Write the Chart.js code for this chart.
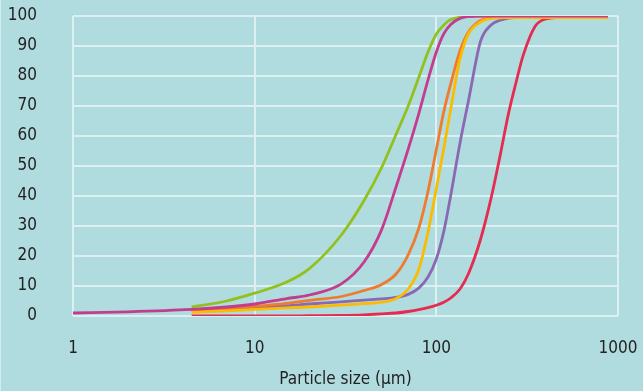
<!DOCTYPE html>
<html>
<head>
<meta charset="utf-8">
<style>
  html, body { margin: 0; padding: 0; background: #b0dce0; }
  #chart { display: block; }
</style>
<script src="https://cdn.jsdelivr.net/npm/chart.js@4"></script>
</head>
<body>
<canvas id="chart" width="643" height="391"></canvas>
<script>
const sizes = [1, 2, 4.5, 7, 10, 15, 20, 30, 40, 50, 60, 70, 80, 90, 100, 110, 120, 135, 150, 175, 200, 225, 250, 275, 300, 350, 400, 500, 880];

// cumulative % passing for each sample
const green = [null, null, 3, 5, 7.6, 11.3, 15.8, 27, 38.5, 49.5, 60.5, 70, 79.5, 88, 94, 97, 98.8, 99.6, 99.9, 100, 100, 100, 100, 100, 100, 100, 100, 100, 100];
const magenta = [1, 1.4, 2.2, 3, 4, 5.8, 7, 10.7, 18, 28.8, 43, 55.6, 67.4, 78.7, 88, 94.1, 97.2, 99.2, 99.8, 100, 100, 100, 100, 100, 100, 100, 100, 100, 100];
const orange = [null, null, 1.8, 2.5, 3.2, 4.2, 5.2, 6.5, 8.5, 10.5, 14, 20.4, 29.2, 41.6, 55.5, 68.2, 77.4, 88.4, 94.6, 98.5, 99.5, 99.7, 99.8, 99.8, 99.8, 99.8, 99.8, 99.8, 99.8];
const yellow = [null, null, 1.2, 1.7, 2.2, 2.7, 3, 3.6, 4.1, 4.6, 5.8, 9, 15.5, 28, 42.5, 56, 69, 85.7, 94, 98, 99.2, 99.4, 99.5, 99.5, 99.5, 99.5, 99.5, 99.5, 99.5];
const purple = [null, null, 1.9, 2.4, 2.8, 3.4, 4, 4.7, 5.3, 5.7, 6.2, 7.2, 9.3, 13, 19, 28.3, 40.2, 57.7, 71.5, 91.5, 97, 98.6, 99.3, 99.5, 99.6, 99.6, 99.6, 99.6, 99.6];
const red = [null, null, 0, 0, 0, 0, 0.1, 0.2, 0.4, 0.7, 1, 1.5, 2.1, 2.8, 3.6, 4.6, 6, 9, 14, 25.5, 39.2, 53.8, 67.7, 78, 86.7, 96.6, 99, 99.6, 99.7];

const xTicks = [1, 10, 100, 1000];
const yTicks = [0, 10, 20, 30, 40, 50, 60, 70, 80, 90, 100];

const FONT = '"DejaVu Sans Condensed", "DejaVu Sans", sans-serif';

const toPoints = (values) => sizes.map((x, i) => ({ x: x, y: values[i] }));

const series = [
  { data: magenta, color: '#c43c8d', order: 1 },
  { data: yellow, color: '#fbbb00', order: 2 },
  { data: orange, color: '#f07a2d', order: 3 },
  { data: red, color: '#e62b50', order: 4 },
  { data: purple, color: '#8a68b3', order: 5 },
  { data: green, color: '#93c01f', order: 6 },
];

// faint light edge on the left of the panel
const edgeLine = {
  id: 'edgeLine',
  beforeDraw: (chart) => {
    const ctx = chart.ctx;
    ctx.save();
    ctx.fillStyle = '#d2ecee';
    ctx.fillRect(0, 0, 1, chart.height);
    ctx.restore();
  },
};

const main = () => {
  const config = {
    type: 'line',
    data: {
      datasets: series.map((s) => ({
        data: toPoints(s.data),
        borderColor: s.color,
        borderWidth: 2.8,
        pointRadius: 0,
        fill: false,
        cubicInterpolationMode: 'monotone',
        order: s.order,
      })),
    },
    options: {
      responsive: false,
      animation: false,
      layout: { autoPadding: false, padding: { top: 16, right: 25, left: 0, bottom: 0 } },
      plugins: { legend: { display: false }, tooltip: { enabled: false } },
      scales: {
        x: {
          type: 'logarithmic',
          min: 1,
          max: 1000,
          afterBuildTicks: (scale) => {
            scale.ticks = xTicks.map((v) => ({ value: v }));
          },
          afterFit: (scale) => {
            scale.height = 75;
            scale.paddingLeft = 0;
            scale.paddingRight = 0;
          },
          grid: { color: '#dcf0f2', lineWidth: 2, drawTicks: false },
          border: { display: false },
          ticks: {
            color: '#222',
            padding: 22,
            font: { family: FONT, size: 17 },
            callback: (v) => String(v),
            maxRotation: 0,
            autoSkip: false,
          },
          title: {
            display: true,
            text: 'Particle size (µm)',
            color: '#222',
            font: { family: FONT, size: 17 },
            padding: { top: 0, bottom: 1 },
          },
        },
        y: {
          min: 0,
          max: 100,
          afterBuildTicks: (scale) => {
            scale.ticks = yTicks.map((v) => ({ value: v }));
          },
          afterFit: (scale) => {
            scale.width = 73;
            scale.paddingTop = 0;
            scale.paddingBottom = 0;
          },
          grid: { color: '#dcf0f2', lineWidth: 2, drawTicks: false },
          border: { display: false },
          ticks: {
            color: '#222',
            padding: 36,
            autoSkip: false,
            font: { family: FONT, size: 17 },
          },
        },
      },
    },
    plugins: [edgeLine],
  };

  new Chart(document.getElementById('chart'), config);
};

main();
</script>
</body>
</html>
